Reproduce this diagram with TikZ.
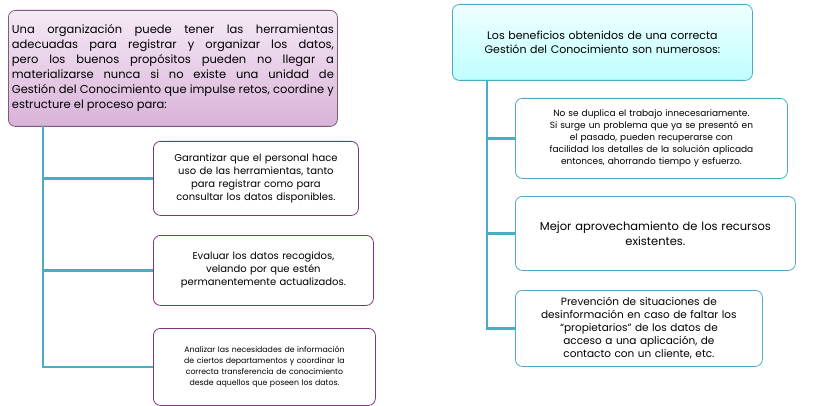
\documentclass[tikz,border=0pt]{standalone}
\usepackage{fontspec}
\setmainfont{Poppins}
\begin{document}
\hyphenpenalty=10000 \exhyphenpenalty=10000
\begin{tikzpicture}[x=1pt,y=-1pt,
 box/.style={draw=violet!60!gray, line width=0.8pt, rounded corners=7pt, fill=white, align=center, inner sep=3pt, font=\fontsize{10}{13}\selectfont}]
\useasboundingbox (0,0) rectangle (818,406);
\definecolor{ln}{HTML}{4BACC6}
% left
\node[box, anchor=north west, minimum width=329pt, minimum height=116pt, text width=322pt, align=justify,
 top color=violet!8, bottom color=violet!30, draw=gray!70!violet, font=\fontsize{11.5}{15}\selectfont] (t1) at (8,10)
 {Una organización puede tener las herramientas adecuadas para registrar y organizar los datos, pero los buenos propósitos pueden no llegar a materializarse nunca si no existe una unidad de Gestión del Conocimiento que impulse retos, coordine y estructure el proceso para:};
\node[box, anchor=north west, minimum width=205pt, minimum height=74pt, text width=198pt] (l1) at (153,141)
 {Garantizar que el personal hace\\ uso de las herramientas, tanto\\ para registrar como para\\ consultar los datos disponibles.};
\node[box, anchor=north west, minimum width=220pt, minimum height=70pt, text width=212pt] (l2) at (153,235)
 {Evaluar los datos recogidos,\\ velando por que estén\\ permanentemente actualizados.};
\node[box, anchor=north west, minimum width=220pt, minimum height=77pt, text width=216pt, font=\fontsize{7.8}{11}\selectfont] (l3) at (153,328)
 {Analizar las necesidades de información\\ de ciertos departamentos y coordinar la\\ correcta transferencia de conocimiento\\ desde aquellos que poseen los datos.};
\coordinate (lv) at (43,126);
\draw[line width=2.5pt, ln] (lv) |- (l3.west);
\draw[line width=2.5pt, ln] (lv |- l1.west) -- (l1.west);
\draw[line width=2.5pt, ln] (lv |- l2.west) -- (l2.west);
% right
\node[box, anchor=north west, minimum width=300pt, minimum height=76pt, text width=290pt,
 top color=cyan!6, bottom color=cyan!25, draw=ln, font=\fontsize{11}{14}\selectfont] (t2) at (452,4)
 {Los beneficios obtenidos de una correcta\\ Gestión del Conocimiento son numerosos:};
\node[box, anchor=north west, minimum width=272pt, minimum height=80pt, text width=266pt, draw=ln, font=\fontsize{9}{12}\selectfont] (r1) at (515,98)
 {No se duplica el trabajo innecesariamente.\\ Si surge un problema que ya se presentó en\\ el pasado, pueden recuperarse con\\ facilidad los detalles de la solución aplicada\\ entonces, ahorrando tiempo y esfuerzo.};
\node[box, anchor=north west, minimum width=280pt, minimum height=74pt, text width=272pt, draw=ln, font=\fontsize{11.5}{15}\selectfont] (r2) at (515,196)
 {Mejor aprovechamiento de los recursos\\ existentes.};
\node[box, anchor=north west, minimum width=247pt, minimum height=76pt, text width=240pt, draw=ln, font=\fontsize{10.5}{13}\selectfont] (r3) at (515,290)
 {Prevención de situaciones de\\ desinformación en caso de faltar los\\ “propietarios” de los datos de\\ acceso a una aplicación, de\\ contacto con un cliente, etc.};
\coordinate (rv) at (487,80);
\draw[line width=2.5pt, ln] (rv) |- (r3.west);
\draw[line width=2.5pt, ln] (rv |- r1.west) -- (r1.west);
\draw[line width=2.5pt, ln] (rv |- r2.west) -- (r2.west);
\end{tikzpicture}
\end{document}
